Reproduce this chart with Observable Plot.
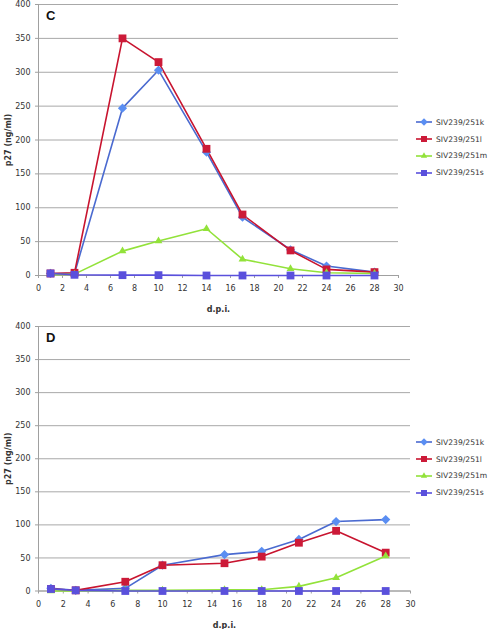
<!DOCTYPE html>
<html>
<head>
<meta charset="utf-8">
<script src="https://cdn.jsdelivr.net/npm/d3@7"></script>
<script src="https://cdn.jsdelivr.net/npm/@observablehq/plot@0.6"></script>
<style>
  html, body { margin: 0; padding: 0; background: #fff; }
  body { width: 488px; height: 629px; position: relative; overflow: hidden; font-family: "DejaVu Sans", sans-serif; }
  .panel { position: absolute; left: 0; width: 488px; }
  .panel svg { overflow: visible; }
  .panel g[aria-label="y-axis label"] text, .panel g[aria-label="x-axis label"] text { font-weight: bold; }
  .tag { position: absolute; font-family: "Liberation Sans", Arial, sans-serif; font-weight: bold; font-size: 13px; color: #111; }
  .legend { position: absolute; left: 416px; font-size: 7.6px; color: #333; }
  .legend .row { height: 16.8px; display: flex; align-items: center; white-space: nowrap; }
  .legend svg { margin-right: 4px; }
</style>
</head>
<body>
<script>
// ---- data ----
const series = ["SIV239/251k", "SIV239/251l", "SIV239/251m", "SIV239/251s"];
const lineColors = ["#4a6ad0", "#c8142f", "#92e23a", "#5a50dc"];
const markColors = ["#5a8ef2", "#cc1a38", "#92e23a", "#5a50dc"];
const markShapes = ["diamond", "square", "triangle", "square"];

const xTicks = [0, 2, 4, 6, 8, 10, 12, 14, 16, 18, 20, 22, 24, 26, 28, 30];
const yTicks = [0, 50, 100, 150, 200, 250, 300, 350, 400];

// Panel C
const dpiC = [1, 3, 7, 10, 14, 17, 21, 24, 28];
const cK = [3, 3, 247, 303, 182, 86, 38, 14, 5];
const cL = [3, 4, 350, 315, 187, 90, 37, 9, 5];
const cM = [1, 2, 36, 51, 69, 24, 10, 4, 3];
const cS = [3, 1, 0.5, 0.5, 0, 0, 0, 0, 0];

// Panel D
const dpiD = [1, 3, 7, 10, 15, 18, 21, 24, 28];
const dK = [4, 1, 4, 39, 55, 60, 78, 105, 108];
const dL = [3, 1, 14, 39, 42, 52, 73, 91, 58];
const dM = [0, 0, 1, 1, 2, 2, 7, 20, 53];
const dS = [3, 1, 0, 0, 0, 0, 0, 0, 0];

// ---- symbols ----
const symbols = {
  square: { draw(ctx, size) { const h = Math.sqrt(size) / 2; ctx.moveTo(-h, -h); ctx.lineTo(h, -h); ctx.lineTo(h, h); ctx.lineTo(-h, h); ctx.closePath(); } },
  diamond: { draw(ctx, size) { const h = Math.sqrt(size) * 0.62; ctx.moveTo(0, -h); ctx.lineTo(h, 0); ctx.lineTo(0, h); ctx.lineTo(-h, 0); ctx.closePath(); } },
  triangle: { draw(ctx, size) { const s = Math.sqrt(size) * 1.05; const hgt = s * Math.sqrt(3) / 2; ctx.moveTo(0, -hgt * 2 / 3); ctx.lineTo(s / 2, hgt / 3); ctx.lineTo(-s / 2, hgt / 3); ctx.closePath(); } }
};

function makeRows(xs, values) {
  return values.flatMap((vals, i) => xs.map((x, j) => ({ series: series[i], dpi: x, p27: vals[j] })));
}

function panel(rows, opts) {
  const marks = [
    Plot.gridY(yTicks, { stroke: "#a8a8a8", strokeOpacity: 1, strokeWidth: 1 }),
    Plot.ruleY([0], { stroke: "#a0a0a0" }),
    Plot.ruleX([0], { stroke: "#a0a0a0" }),
    Plot.axisX({ ticks: xTicks, tickSize: 3, tickPadding: 7, stroke: "#a0a0a0", fill: "#333",
      label: "d.p.i.", labelAnchor: "center", labelArrow: "none", labelOffset: opts.xLabelOffset }),
    Plot.axisY({ ticks: yTicks, tickSize: 3, tickPadding: 5, stroke: "#a0a0a0", fill: "#333",
      label: "p27 (ng/ml)", labelAnchor: "center", labelArrow: "none", labelOffset: 33 })
  ];
  series.forEach((s, i) => {
    const d = rows.filter(r => r.series === s);
    marks.push(Plot.line(d, { x: "dpi", y: "p27", stroke: lineColors[i], strokeWidth: 1.6 }));
  });
  series.forEach((s, i) => {
    const d = rows.filter(r => r.series === s);
    marks.push(Plot.dot(d, { x: "dpi", y: "p27", symbol: symbols[markShapes[i]], r: i === 1 || i === 3 ? 4.4 : 4.2, fill: markColors[i], stroke: "none" }));
  });
  return Plot.plot({
    width: 488,
    height: opts.height,
    marginLeft: 38,
    marginRight: opts.marginRight,
    marginTop: opts.marginTop,
    marginBottom: opts.marginBottom,
    x: { domain: [0, 30] },
    y: { domain: [0, 400] },
    style: { fontFamily: "DejaVu Sans, sans-serif", fontSize: "8px", color: "#333", background: "transparent", overflow: "visible" },
    marks
  });
}

function legend(top) {
  const div = document.createElement("div");
  div.className = "legend";
  div.style.top = top + "px";
  series.forEach((s, i) => {
    const row = document.createElement("div");
    row.className = "row";
    const svg = d3.create("svg").attr("width", 16).attr("height", 10);
    svg.append("line").attr("x1", 0).attr("x2", 16).attr("y1", 5).attr("y2", 5)
      .attr("stroke", lineColors[i]).attr("stroke-width", 1.6);
    const p = d3.path();
    symbols[markShapes[i]].draw(p, 36);
    svg.append("path").attr("d", p.toString()).attr("transform", "translate(8,5)").attr("fill", markColors[i]);
    row.appendChild(svg.node());
    const t = document.createElement("span");
    t.textContent = s;
    row.appendChild(t);
    div.appendChild(row);
  });
  document.body.appendChild(div);
}

function addPanel(top, rows, opts, tag, tagTop, legendTop) {
  const div = document.createElement("div");
  div.className = "panel";
  div.style.top = top + "px";
  div.appendChild(panel(rows, opts));
  document.body.appendChild(div);
  const t = document.createElement("div");
  t.className = "tag";
  t.textContent = tag;
  t.style.left = "46px";
  t.style.top = tagTop + "px";
  document.body.appendChild(t);
  legend(legendTop);
}

addPanel(0, makeRows(dpiC, [cK, cL, cM, cS]),
  { height: 315, marginRight: 90, marginTop: 4, marginBottom: 40, xLabelOffset: 36 }, "C", 8, 114);
addPanel(315, makeRows(dpiD, [dK, dL, dM, dS]),
  { height: 314, marginRight: 78, marginTop: 11, marginBottom: 38.5, xLabelOffset: 37 }, "D", 330, 434);
</script>
</body>
</html>
